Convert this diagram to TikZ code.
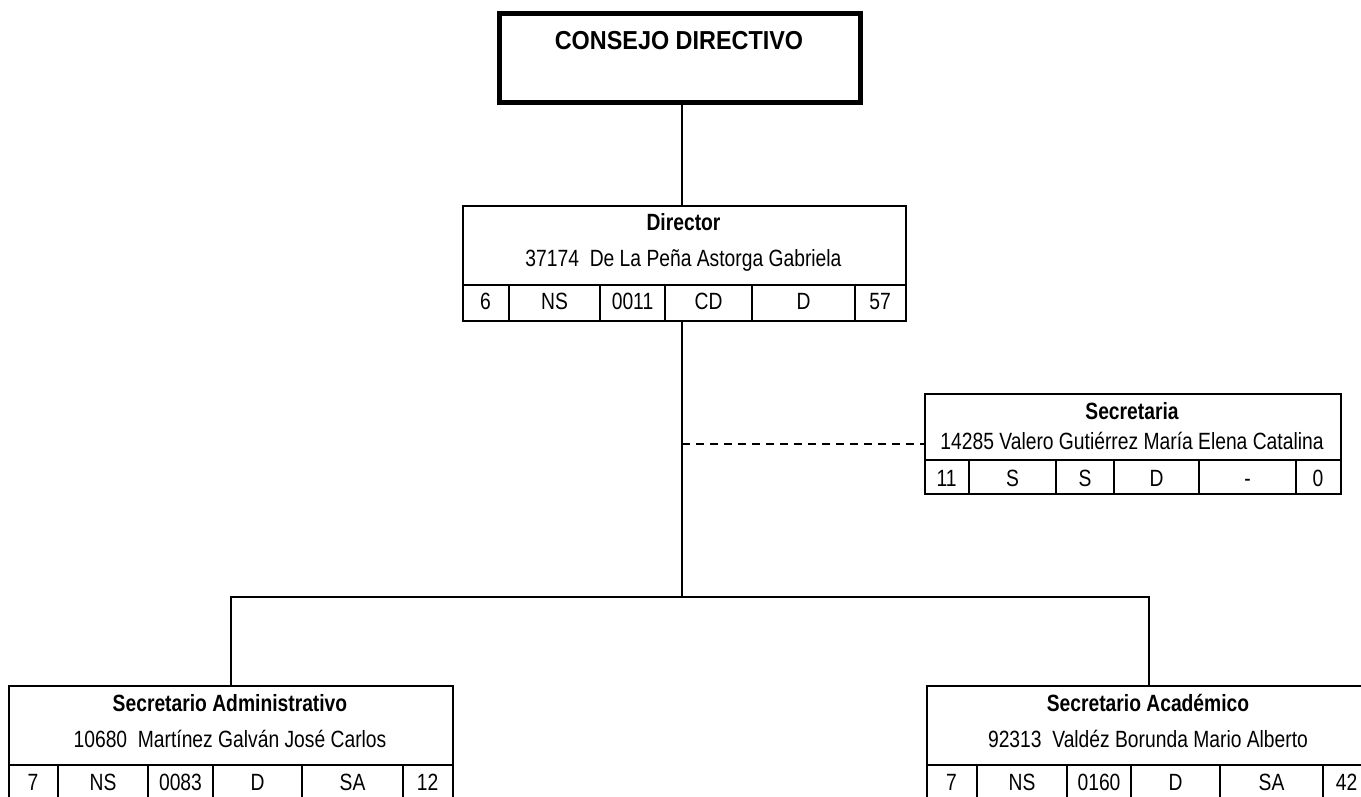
\documentclass[tikz,border=0pt]{standalone}
\usepackage{fontspec}
\setmainfont{Liberation Sans}[FakeStretch=0.82]
\newfontfamily\headfont{Liberation Sans}[FakeStretch=0.9]
\begin{document}
\begin{tikzpicture}[x=1pt,y=-1pt,
  frame/.style={draw, line width=2pt, inner sep=0pt, anchor=north west},
  bigframe/.style={draw, line width=5pt, inner sep=0pt, anchor=north west},
  ttl/.style={font=\fontsize{23.5}{27}\selectfont\bfseries, inner sep=0pt, anchor=base},
  bigttl/.style={font=\headfont\fontsize{26}{30}\selectfont\bfseries, inner sep=0pt, anchor=base},
  txt/.style={font=\fontsize{23.5}{27}\selectfont, inner sep=0pt, anchor=base},
  divider/.style={line width=2pt},
  conn/.style={line width=1.4pt},
  dconn/.style={line width=1.4pt, dash pattern=on 8pt off 6pt}]
\useasboundingbox (0,0) rectangle (1361,797);
\clip (0,0) rectangle (1361,797);

% Consejo directivo
\node[bigframe, minimum width=361pt, minimum height=89pt] (consejo) at (497,11) {};
\node[bigttl] (consejot) at (679,50) {CONSEJO DIRECTIVO};

% Director
\node[frame, minimum width=443pt, minimum height=115pt] (dir) at (462,205) {};
\draw[divider] (462,285) -- (905,285);
\foreach \x in {509,600,665,752,855} \draw[divider] (\x,285) -- (\x,320);
\node[ttl] (dirt) at (683.5,230) {Director};
\node[txt] (dirn) at (683.5,266) {37174\ \ De La Peña Astorga Gabriela};
\foreach \a/\b/\t [count=\i] in {462/509/6,509/600/NS,600/665/0011,665/752/CD,752/855/D,855/905/57}
  \node[txt] (dirc\i) at ({(\a+\b)/2},309) {\t};

% Secretaria
\node[frame, minimum width=416pt, minimum height=100pt] (sec) at (924,393) {};
\draw[divider] (924,460) -- (1340,460);
\foreach \x in {969,1056,1114,1199,1296} \draw[divider] (\x,460) -- (\x,493);
\node[ttl] (sect) at (1132,419) {Secretaria};
\node[txt] (secn) at (1132,449) {14285 Valero Gutiérrez María Elena Catalina};
\foreach \a/\b/\t [count=\i] in {924/969/11,969/1056/S,1056/1114/S,1114/1199/D,1199/1296/-,1296/1340/0}
  \node[txt] (secc\i) at ({(\a+\b)/2},486) {\t};

% Secretario Administrativo
\node[frame, minimum width=444pt, minimum height=116pt] (adm) at (8,685) {};
\draw[divider] (8,765) -- (452,765);
\foreach \x in {58,148,213,302,403} \draw[divider] (\x,765) -- (\x,801);
\node[ttl] (admt) at (230,711) {Secretario Administrativo};
\node[txt] (admn) at (230,747) {10680\ \ Martínez Galván José Carlos};
\foreach \a/\b/\t [count=\i] in {8/58/7,58/148/NS,148/213/0083,213/302/D,302/403/SA,403/452/12}
  \node[txt] (admc\i) at ({(\a+\b)/2},790) {\t};

% Secretario Academico
\node[frame, minimum width=444pt, minimum height=116pt] (aca) at (926,685) {};
\draw[divider] (926,765) -- (1370,765);
\foreach \x in {977,1067,1131,1220,1323} \draw[divider] (\x,765) -- (\x,801);
\node[ttl] (acat) at (1148,711) {Secretario Académico};
\node[txt] (acan) at (1148,747) {92313\ \ Valdéz Borunda Mario Alberto};
\foreach \a/\b/\t [count=\i] in {926/977/7,977/1067/NS,1067/1131/0160,1131/1220/D,1220/1323/SA,1323/1370/42}
  \node[txt] (acac\i) at ({(\a+\b)/2},790) {\t};

% connectors
\coordinate (trunk) at (682,597);
\coordinate (dashstart) at (682,444);
\draw[conn] (consejo.south -| trunk) -- (dir.north -| trunk);
\draw[conn] (dir.south -| trunk) -- (trunk);
\draw[dconn] (dashstart) -- (dashstart -| sec.west);
\draw[conn] (adm.north) -- (adm.north |- trunk) -- (aca.north |- trunk) -- (aca.north);
\end{tikzpicture}
\end{document}
